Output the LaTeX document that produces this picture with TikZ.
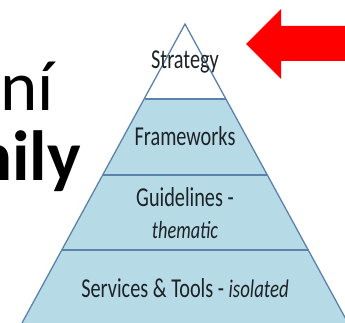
\documentclass[tikz,border=0pt]{standalone}
\usepackage{fontspec}
\setmainfont{Carlito}
\definecolor{bandblue}{HTML}{B7DBE6}
\definecolor{edgeblue}{HTML}{5C82AC}
\definecolor{labelink}{HTML}{1C2226}
\newcommand{\tallsize}[1]{\scalebox{0.965}[1.3]{#1}}
\tikzset{
  band/.style={fill=bandblue,draw=none},
  edgeline/.style={draw=edgeblue,line width=1.3pt},
  label/.style={text=labelink,font=\fontsize{21}{24}\selectfont,inner sep=0pt,align=center},
  title/.style={text=black,inner sep=0pt,anchor=base east},
  redarrow/.style={fill=red,draw=none}
}
\begin{document}
\begin{tikzpicture}[x=1pt,y=-1pt]
\useasboundingbox (0,0) rectangle (345,323);
\clip (0,0) rectangle (345,323);
\fill[white] (0,0) rectangle (345,323);
\coordinate (apex) at (185,24);
\coordinate (l1) at (144.5,99);
\coordinate (r1) at (226,99);
\coordinate (l2) at (103,175);
\coordinate (r2) at (267.5,175);
\coordinate (l3) at (62,250);
\coordinate (r3) at (308.5,250);
\coordinate (l4) at (22,323);
\coordinate (r4) at (348,323);
\fill[band] (l1) -- (r1) -- (r4) -- (l4) -- cycle;
\draw[edgeline] (l1) -- (r1);
\draw[edgeline] (l2) -- (r2);
\draw[edgeline] (l3) -- (r3);
\draw[edgeline,line join=miter] (l4) -- (apex) -- (r4);
\node[title,font=\fontsize{71}{71}\selectfont] (t1) at (54,111) {ní};
\node[title,font=\bfseries\fontsize{71}{71}\selectfont] (t2) at (81,180) {nily};
\node[label] (s) at (185,62) {\tallsize{Strategy}};
\node[label] (f) at (185,136) {\tallsize{Frameworks}};
\node[label] (g1) at (185,197) {\tallsize{Guidelines -}};
\node[label] (g2) at (185,230) {\tallsize{\fontsize{19}{22}\selectfont\itshape thematic}};
\node[label] (v) at (185,288) {\tallsize{Services \& Tools - {\fontsize{19.5}{22}\selectfont\itshape isolated}}};
\fill[redarrow] (246,44) -- (281,9) -- (281,26) -- (345,26) -- (345,61) -- (281,61) -- (281,79) -- cycle;
\end{tikzpicture}
\end{document}
